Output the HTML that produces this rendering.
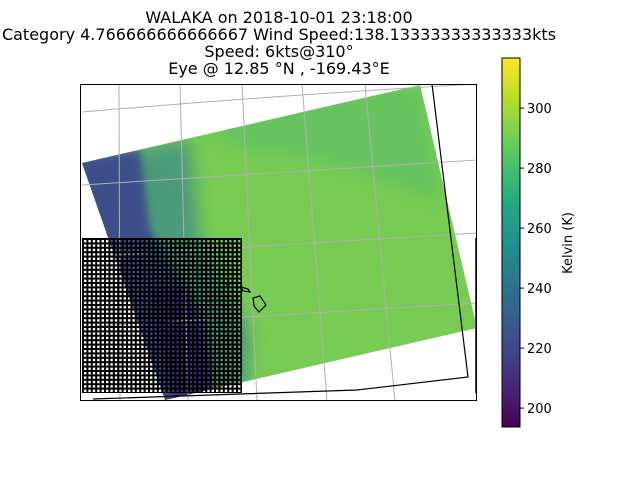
<!DOCTYPE html>
<html><head><meta charset="utf-8"><style>
html,body{margin:0;padding:0;background:#fff;}
svg{display:block;font-family:"DejaVu Sans","Liberation Sans",sans-serif;}
</style></head><body>
<svg width="640" height="480" viewBox="0 0 640 480">
<defs>
  <linearGradient id="viridis" x1="0" y1="1" x2="0" y2="0">
    <stop offset="0" stop-color="#440154"/><stop offset="0.1" stop-color="#482475"/>
    <stop offset="0.2" stop-color="#414487"/><stop offset="0.3" stop-color="#355f8d"/>
    <stop offset="0.4" stop-color="#2a788e"/><stop offset="0.5" stop-color="#21918c"/>
    <stop offset="0.6" stop-color="#22a884"/><stop offset="0.7" stop-color="#44bf70"/>
    <stop offset="0.8" stop-color="#7ad151"/><stop offset="0.9" stop-color="#bddf26"/>
    <stop offset="1" stop-color="#fde725"/>
  </linearGradient>
  <pattern id="meshdark" width="4.4" height="4.4" patternUnits="userSpaceOnUse" x="82" y="238">
    <rect width="4.4" height="2" fill="#000"/><rect width="2" height="4.4" fill="#000"/>
  </pattern>
  <filter id="blur" x="-20%" y="-20%" width="140%" height="140%"><feGaussianBlur stdDeviation="8"/></filter>
  <filter id="blur2" x="-20%" y="-20%" width="140%" height="140%"><feGaussianBlur stdDeviation="4"/></filter>
  <clipPath id="axclip"><rect x="80" y="84" width="397" height="317"/></clipPath>
  <clipPath id="swathclip"><polygon points="82,163 420,85 477,328 165,400"/></clipPath>
</defs>

<g font-size="16" text-anchor="middle" fill="#000">
  <text x="279" y="23">WALAKA on 2018-10-01 23:18:00</text>
  <text x="279" y="40">Category 4.766666666666667 Wind Speed:138.13333333333333kts</text>
  <text x="279" y="57">Speed: 6kts@310°</text>
  <text x="279" y="74">Eye @ 12.85 °N , -169.43°E</text>
</g>

<g clip-path="url(#axclip)">
  <polygon points="82,163 420,85 477,328 165,400" fill="#78cc53"/>
  <g clip-path="url(#swathclip)">
    <polygon points="200,130 300,100 420,85 440,200 320,160 250,150" fill="#5bbd68" opacity="0.6" filter="url(#blur)"/>
    <polygon points="70,160 190,140 200,240 250,330 245,410 160,410" fill="#3f8f86" opacity="0.8" filter="url(#blur)"/>
    <polygon points="70,160 140,150 150,230 205,320 215,410 160,410" fill="#3c4f8a" filter="url(#blur2)"/>
    <polygon points="150,290 185,285 212,370 205,405 172,405" fill="#3a2070" opacity="0.7" filter="url(#blur2)"/>
  </g>
  <g stroke="#b0b0b0" stroke-width="1" fill="none">
    <path d="M82,112 Q280,95 477,84"/>
    <path d="M82,185 Q280,172 477,160"/>
    <path d="M82,257 Q280,245 477,233"/>
    <path d="M82,327 Q280,315 477,303"/>
    <path d="M119,84 L120,401"/>
    <path d="M180,84 L188,401"/>
    <path d="M242,84 L257,401"/>
    <path d="M302,84 L327,401"/>
    <path d="M365,84 L395,401"/>
  </g>
  <rect x="82" y="238" width="160" height="155" fill="url(#meshdark)"/>
  <rect x="475" y="238" width="2" height="155" fill="#444"/>
  <g stroke="#000" stroke-width="1.2" fill="none">
    <path d="M432,84 L468,377 L357,390 L93,399"/>
  </g>
  <g stroke="#000" stroke-width="1.2" fill="none">
    <path d="M253,298 L260,296 L266,305 L259,312 L254,306 Z"/>
    <path d="M241,287 L248,289 L250,292 L243,291 Z"/>
    <circle cx="228" cy="284" r="1.5" fill="#000"/>
  </g>
</g>
<rect x="80.5" y="84.5" width="396" height="316" fill="none" stroke="#000" stroke-width="1"/>

<g>
  <rect x="502" y="58" width="18" height="369" fill="url(#viridis)" stroke="#000" stroke-width="1"/>
  <g id="cbticks" font-size="13" fill="#000"></g>
  <text x="572" y="243" font-size="13" text-anchor="middle" transform="rotate(-90 572 243)">Kelvin (K)</text>
</g>
<script>
const cbTicks = [200, 220, 240, 260, 280, 300];
const cbMin = 193.7, cbMax = 316.7;
const cbTop = 58, cbBottom = 427;
function cbY(v){ return cbBottom - (v - cbMin) / (cbMax - cbMin) * (cbBottom - cbTop); }
const g = document.getElementById('cbticks');
const ns = 'http://www.w3.org/2000/svg';
cbTicks.forEach(function(v){
  const y = cbY(v);
  const l = document.createElementNS(ns, 'line');
  l.setAttribute('x1', 520); l.setAttribute('x2', 524);
  l.setAttribute('y1', y); l.setAttribute('y2', y);
  l.setAttribute('stroke', '#000');
  
  
  g.appendChild(l);
  const t = document.createElementNS(ns, 'text');
  t.setAttribute('x', 527); t.setAttribute('y', y + 5);
  t.textContent = v;
  
  
  g.appendChild(t);
});
</script>
</svg>
</body></html>
